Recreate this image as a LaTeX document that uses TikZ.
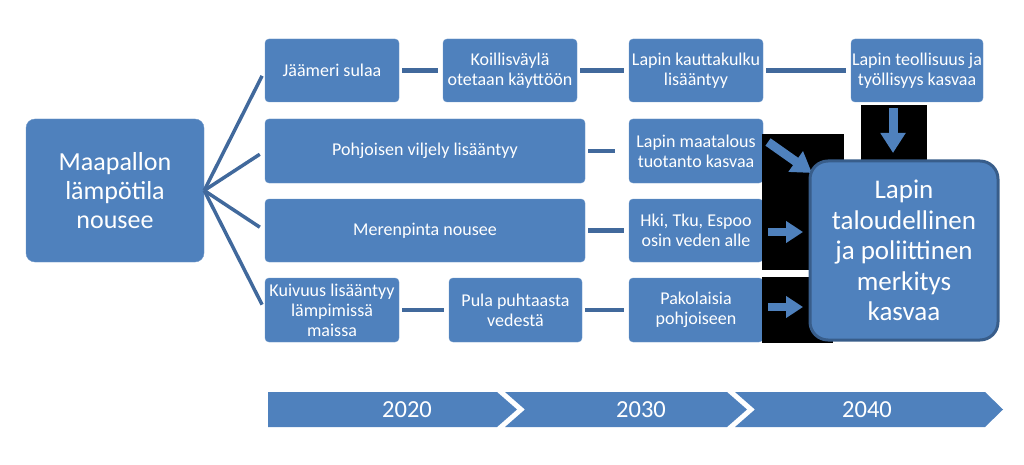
\documentclass[tikz,border=0pt]{standalone}
\usepackage{fontspec}
\setmainfont{Carlito}
\usetikzlibrary{arrows.meta}
\definecolor{boxblue}{HTML}{4F81BD}
\definecolor{linkblue}{HTML}{41699C}
\definecolor{rimblue}{HTML}{385D8A}
\tikzset{
	box/.style={rectangle, rounded corners=4pt, fill=boxblue, draw=boxblue!85!white, text=white, align=center, inner sep=0pt, font=\fontsize{18}{20}\selectfont},
	link/.style={draw=linkblue, line width=4.5pt, shorten <=3pt, shorten >=5pt},
	fan/.style={draw=linkblue, line width=3.5pt, shorten >=6pt},
	blockarrow/.style={draw=boxblue, line width=9pt, -{Triangle[length=20pt,width=24pt]}},
	year/.style={text=white, font=\fontsize{24.5}{26}\selectfont}
}
\begin{document}
\begin{tikzpicture}[x=1pt,y=-1pt]

	\useasboundingbox (0,0) rectangle (1024,465);

	% boxes
	\node [box, rounded corners=9pt, minimum width=178pt, minimum height=143pt, font=\fontsize{26}{29}\selectfont] (temp) at (115,190.5) {Maapallon\\lämpötila\\nousee};
	\node [box, minimum width=134pt, minimum height=63pt] (jaa) at (332,70.5) {Jäämeri sulaa};
	\node [box, minimum width=134pt, minimum height=63pt] (koil) at (510,70.5) {Koillisväylä\\otetaan käyttöön};
	\node [box, minimum width=134pt, minimum height=63pt] (kautta) at (696,70.5) {Lapin kauttakulku\\lisääntyy};
	\node [box, minimum width=132pt, minimum height=63pt] (teoll) at (917,70.5) {Lapin teollisuus ja\\työllisyys kasvaa};
	\node [box, minimum width=320pt, minimum height=64pt] (vilj) at (425,151) {Pohjoisen viljely lisääntyy};
	\node [box, minimum width=134pt, minimum height=64pt] (maat) at (696,151) {Lapin maatalous\\tuotanto kasvaa};
	\node [box, minimum width=320pt, minimum height=63pt] (meri) at (425,230.5) {Merenpinta nousee};
	\node [box, minimum width=134pt, minimum height=63pt] (hki) at (696,230.5) {Hki, Tku, Espoo\\osin veden alle};
	\node [box, minimum width=134pt, minimum height=64pt] (kuiv) at (332,310) {Kuivuus lisääntyy\\lämpimissä\\maissa};
	\node [box, minimum width=133pt, minimum height=64pt] (pula) at (515.5,310) {Pula puhtaasta\\vedestä};
	\node [box, minimum width=134pt, minimum height=64pt] (pako) at (696,310) {Pakolaisia\\pohjoiseen};

	% links
	\foreach \a/\b in {temp/jaa, temp/vilj, temp/meri, temp/kuiv}
		\draw [fan] (\a.east) -- (\b.west);
	\foreach \a/\b in {jaa/koil, koil/kautta, kautta/teoll, meri/hki, kuiv/pula, pula/pako}
		\draw [link] (\a) -- (\b);
	\draw [link, shorten >=14pt] (vilj) -- (maat);

	% black patches behind the arrows
	\fill [black] (762,134) rectangle (844,270);
	\fill [black] (762,277) rectangle (833,343);
	\fill [black] (861,105) rectangle (927,175);

	% arrows
	\coordinate (d1) at (893,108);
	\coordinate (d2) at (893,153);
	\coordinate (m1) at (768,142);
	\coordinate (m2) at (812,173);
	\coordinate (h1) at (768,232);
	\coordinate (h2) at (803,232);
	\coordinate (p1) at (768,307);
	\coordinate (p2) at (803,307);
	\draw [blockarrow] (d1) -- (d2);
	\draw [blockarrow] (m1) -- (m2);
	\draw [blockarrow, line width=8pt, -{Triangle[length=17pt,width=21pt]}] (h1) -- (h2);
	\draw [blockarrow, line width=8pt, -{Triangle[length=17pt,width=21pt]}] (p1) -- (p2);

	% result
	\node [box, rounded corners=18pt, draw=rimblue, line width=3pt, minimum width=188pt, minimum height=179pt, font=\fontsize{27}{30.5}\selectfont] (big) at (904,250.5) {Lapin\\taloudellinen\\ja poliittinen\\merkitys\\kasvaa};

	% timeline
	\fill [boxblue] (268,392) -- (497,392) -- (517,409.5) -- (497,427) -- (268,427) -- cycle;
	\fill [boxblue] (505,392) -- (727,392) -- (747,409.5) -- (727,427) -- (505,427) -- (525,409.5) -- cycle;
	\fill [boxblue] (735,392) -- (985,392) -- (1003,409.5) -- (985,427) -- (735,427) -- (755,409.5) -- cycle;
	\node [year] (y1) at (407,409.5) {2020};
	\node [year] (y2) at (641,409.5) {2030};
	\node [year] (y3) at (867,409.5) {2040};

\end{tikzpicture}
\end{document}
